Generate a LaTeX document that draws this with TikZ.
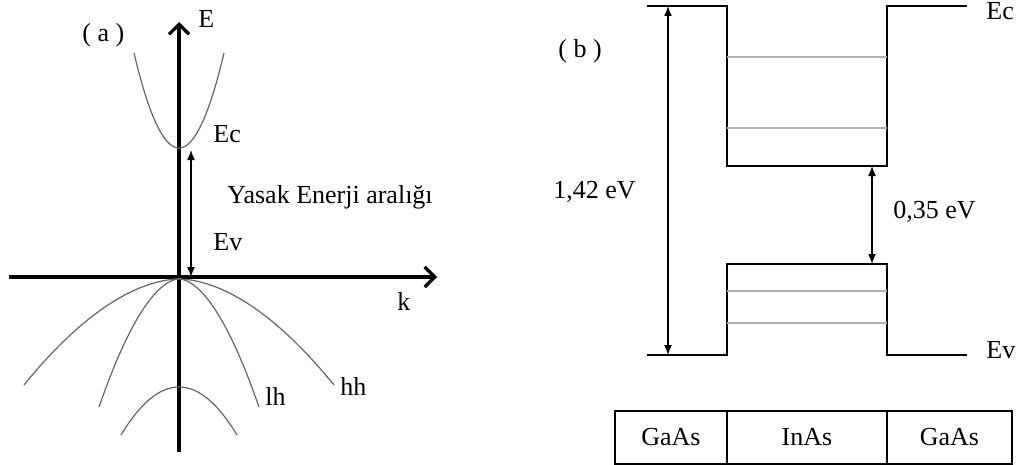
\documentclass[tikz,border=0pt]{standalone}
\usepackage{fontspec}
\setmainfont{Liberation Serif}
\usetikzlibrary{arrows.meta,positioning}
\tikzset{
  axis/.style={line width=1.6pt,-{Straight Barb[length=5pt,width=10pt,line width=1.6pt]}},
  disp/.style={gray!80!black,line width=0.6pt,smooth,samples=60},
  band/.style={line width=1.1pt},
  level/.style={gray!60,line width=0.6pt},
  arr/.style={{Latex[length=5pt,width=4pt]}-{Latex[length=5pt,width=4pt]},line width=0.7pt},
  lbl/.style={anchor=base west,inner sep=0pt,font=\fontsize{13}{15}\selectfont},
  cell/.style={draw,line width=1.1pt,minimum height=26.5pt,inner sep=0pt,outer sep=0pt,
               font=\fontsize{13}{15}\selectfont},
}
\begin{document}
\begin{tikzpicture}[x=0.5pt,y=-0.5pt]
  \useasboundingbox (0,0) rectangle (1022,465);

  % (a) E-k diagram
  \coordinate (org)  at (179,277);
  \coordinate (eTop) at (179,22);
  \coordinate (eBot) at (179,452);
  \coordinate (kL)   at (9,277);
  \coordinate (kR)   at (437,277);
  \draw[axis] (eBot) -- (eTop);
  \draw[axis] (kL) -- (kR);
  \node[lbl] (Elbl) at (198,28) {E};
  \node[lbl] (klbl) at (397,310) {k};
  \node[lbl] (albl) at (82,42) {( a )};

  \draw[disp] plot[domain=-45:45] ({179+\x},{148-95*(\x/45)^2});
  \draw[disp] plot[domain=-155:155] ({179+\x},{279+106*(abs(\x)/155)^1.8});
  \draw[disp] plot[domain=-80:80] ({179+\x},{279+128*(abs(\x)/80)^1.8});
  \draw[disp] plot[domain=-58:58] ({179+\x},{387+48*(\x/58)^2});

  \coordinate (gapTop) at (191,150);
  \coordinate (gapBot) at (191,277);
  \draw[arr] (gapTop) -- (gapBot);
  \node[lbl] (Ec1) at (213,142) {Ec};
  \node[lbl] (Ev1) at (213,250) {Ev};
  \node[lbl] (gap) at (227,203) {Yasak Enerji aralığı};
  \node[lbl] (lh)  at (265,405) {lh};
  \node[lbl] (hh)  at (340,395) {hh};

  % (b) quantum well
  \draw[band] (647,6) -- (727,6) -- (727,166) -- (887,166) -- (887,6) -- (967,6);
  \draw[band] (647,355) -- (727,355) -- (727,264) -- (887,264) -- (887,355) -- (967,355);
  \foreach \y in {57,128,291,323}
    \draw[level] (727,\y) -- (887,\y);

  \coordinate (bigTop) at (668,6);
  \coordinate (bigBot) at (668,355);
  \coordinate (smTop)  at (872,166);
  \coordinate (smBot)  at (872,264);
  \draw[arr] (bigTop) -- (bigBot);
  \draw[arr] (smTop) -- (smBot);

  \node[lbl] (blbl) at (558,58)  {( b )};
  \node[lbl] (big)  at (553,198) {1,42 eV};
  \node[lbl] (sm)   at (893,218) {0,35 eV};
  \node[lbl] (Ec2)  at (986,20)  {Ec};
  \node[lbl] (Ev2)  at (986,358) {Ev};

  \node[cell,minimum width=56pt,anchor=north west] (c1) at (615,411) {GaAs};
  \node[cell,minimum width=80pt,anchor=north west] (c2) at (c1.north east) {InAs};
  \node[cell,minimum width=62.5pt,anchor=north west] (c3) at (c2.north east) {GaAs};
\end{tikzpicture}
\end{document}
